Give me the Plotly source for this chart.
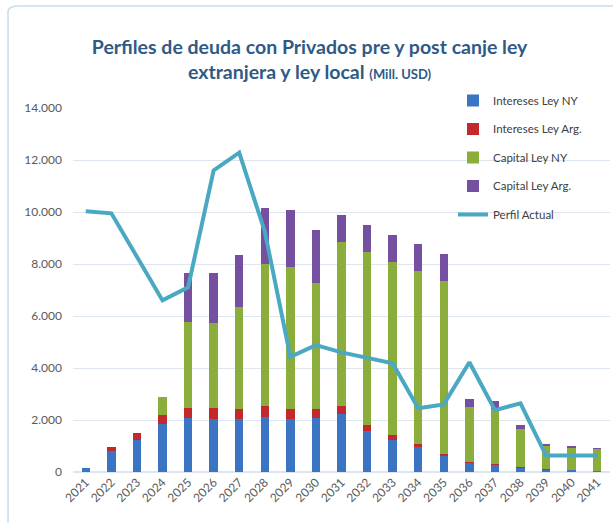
import plotly.graph_objects as go

years = [str(y) for y in range(2021, 2042)]

intereses_ny = [150, 800, 1240, 1860, 2060, 2030, 2030, 2120, 2050, 2090, 2240, 1590, 1240, 950, 630, 360, 270, 180, 110, 80, 20]
intereses_arg = [0, 160, 270, 330, 400, 420, 380, 420, 390, 320, 310, 230, 190, 140, 60, 40, 20, 10, 5, 0, 0]
capital_ny = [0, 0, 0, 690, 3320, 3300, 3920, 5470, 5440, 4870, 6280, 6640, 6650, 6640, 6670, 2090, 2130, 1460, 900, 870, 880]
capital_arg = [0, 0, 0, 0, 1890, 1900, 2010, 2150, 2180, 2030, 1050, 1050, 1050, 1030, 1030, 320, 300, 170, 30, 20, 20]
perfil_actual = [10030, 9950, 8280, 6600, 7100, 11600, 12280, 9250, 4430, 4880, 4600, 4380, 4180, 2450, 2600, 4220, 2380, 2640, 630, 630, 630]

y_ticks = [0, 2000, 4000, 6000, 8000, 10000, 12000, 14000]

fig = go.Figure()
bar_series = [
    ("Intereses Ley NY", intereses_ny, "#3b74c3"),
    ("Intereses Ley Arg.", intereses_arg, "#c3282c"),
    ("Capital Ley NY", capital_ny, "#8aad3c"),
    ("Capital Ley Arg.", capital_arg, "#7550a0"),
]
for i, (name, vals, col) in enumerate(bar_series):
    fig.add_trace(go.Bar(x=years, y=vals, name=name, marker=dict(color=col, line=dict(width=0)),
                         legendgroup=f"g{i}", hoverinfo="skip"))
fig.add_trace(go.Scatter(x=years, y=perfil_actual, name="Perfil Actual", mode="lines",
                         line=dict(color="#4aa8c2", width=4), legendgroup="g5", hoverinfo="skip"))

fig.update_layout(
    width=613, height=523,
    barmode="stack", bargap=0.67,
    separators=",.",
    paper_bgcolor="white", plot_bgcolor="white",
    margin=dict(l=73, r=3, t=108, b=51, autoexpand=False),
    font=dict(family="Lato, Carlito, sans-serif", color="#595959", size=12),
    title=dict(
        text="Perfiles de deuda con Privados pre y post canje ley<br>extranjera y ley local <span style='font-size:13px'>(Mill. USD)</span>",
        x=0.505, xref="container", xanchor="center", y=0.897, yref="container", yanchor="middle",
        font=dict(family="Lato, sans-serif", size=19.5, color="#2f5a86", weight="bold"),
    ),
    legend=dict(x=0.739, y=0.8356, xref="container", yref="container", xanchor="left", yanchor="top",
                bgcolor="rgba(0,0,0,0)",
                font=dict(size=11.5, color="#404040"), tracegroupgap=9.5, itemwidth=30),
    xaxis=dict(type="category", tickangle=-45, showgrid=False, showline=False, ticks="",
               automargin=False, tickfont=dict(size=12, color="#595959")),
    yaxis=dict(range=[0, 14000], tickvals=y_ticks, tickformat=",d", showgrid=True,
               gridcolor="#dde5ee", gridwidth=1, zeroline=True, zerolinecolor="#dde5ee",
               showline=False, ticks="", ticklabelstandoff=10, automargin=False,
               tickfont=dict(size=12, color="#595959")),
    shapes=[dict(type="path", xref="paper", yref="paper",
                 path="M -0.121,-0.3 L -0.121,1.265 Q -0.121,1.28 -0.1,1.28 L 1.2,1.28",
                 line=dict(color="#c9dcea", width=1.5), layer="below")],
    showlegend=True,
)

fig.write_html("out.html", config={"displayModeBar": False},
               post_script="document.body.style.margin='0px';")
